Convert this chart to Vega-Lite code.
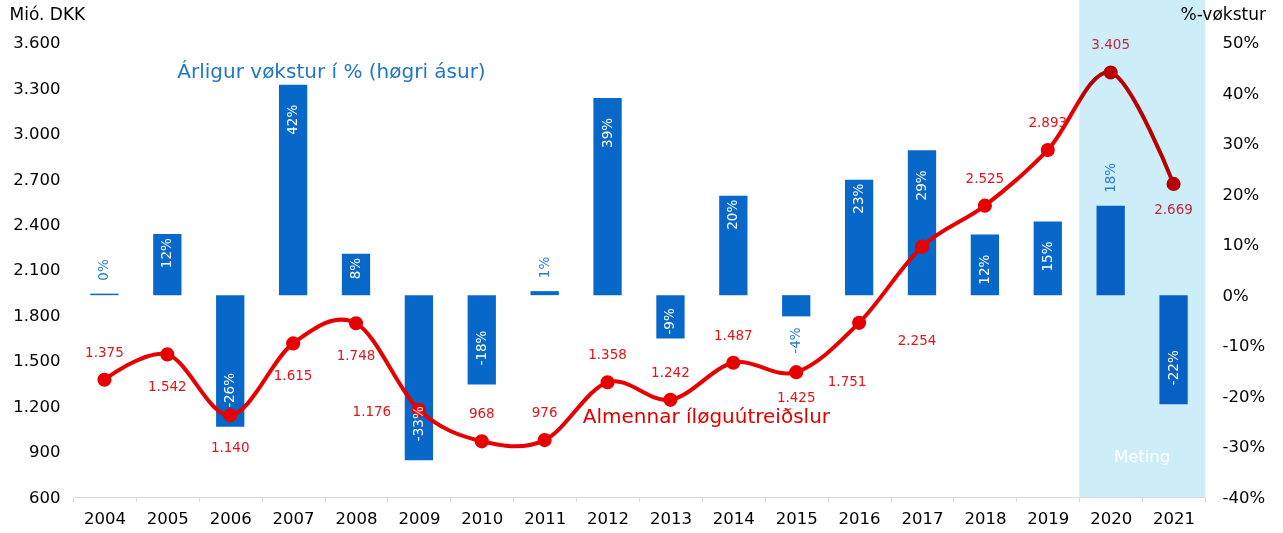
{
  "$schema": "https://vega.github.io/schema/vega-lite/v6.json",
  "width": 1132,
  "height": 497,
  "autosize": {"type": "none"},
  "padding": {"left": 73, "top": 0, "right": 78, "bottom": 36},
  "background": "white",
  "config": {
    "view": {"stroke": null},
    "font": "DejaVu Sans",
    "locale": {"number": {"decimal": ",", "thousands": ".", "grouping": [3], "currency": ["", " kr."], "minus": "-", "percent": "%"}},
    "text": {"font": "DejaVu Sans"}
  },
  "data": {"values": [
    {"year": "2004", "value": 1375, "g": 0.003},
    {"year": "2005", "value": 1542, "g": 0.121},
    {"year": "2006", "value": 1140, "g": -0.261},
    {"year": "2007", "value": 1615, "g": 0.417},
    {"year": "2008", "value": 1748, "g": 0.082},
    {"year": "2009", "value": 1176, "g": -0.327},
    {"year": "2010", "value": 968, "g": -0.177},
    {"year": "2011", "value": 976, "g": 0.008},
    {"year": "2012", "value": 1358, "g": 0.391},
    {"year": "2013", "value": 1242, "g": -0.086},
    {"year": "2014", "value": 1487, "g": 0.197},
    {"year": "2015", "value": 1425, "g": -0.042},
    {"year": "2016", "value": 1751, "g": 0.229},
    {"year": "2017", "value": 2254, "g": 0.287},
    {"year": "2018", "value": 2525, "g": 0.12},
    {"year": "2019", "value": 2893, "g": 0.146},
    {"year": "2020", "value": 3405, "g": 0.177},
    {"year": "2021", "value": 2669, "g": -0.216}
  ]},
  "encoding": {
    "x": {
      "field": "year", "type": "ordinal",
      "scale": {"paddingInner": 0, "paddingOuter": 0},
      "axis": {"title": null, "labelAngle": 0, "tickBand": "extent", "domainColor": "#D9D9D9", "tickColor": "#D9D9D9", "tickSize": 5, "labelFontSize": 16.5, "labelColor": "#000", "labelPadding": 8, "grid": false, "labelFont": "DejaVu Sans"}
    }
  },
  "layer": [
    {
      "mark": {"type": "bar", "color": "#0868C9", "width": {"band": 0.45}},
      "encoding": {
        "y": {"field": "g", "type": "quantitative", "scale": {"domain": [-0.4, 0.585], "nice": false},
          "axis": {"orient": "right", "values": [-0.4, -0.3, -0.2, -0.1, 0, 0.1, 0.2, 0.3, 0.4, 0.5], "format": ".0%", "title": "%-vøkstur", "titleAngle": 0, "titleAlign": "left", "titleBaseline": "middle", "titleX": -25, "titleY": 14, "titleFontSize": 17, "titleFontWeight": "normal", "titleColor": "#000", "titleFont": "DejaVu Sans", "domain": false, "ticks": false, "grid": false, "labelFontSize": 16.5, "labelColor": "#000", "labelPadding": 17, "labelAlign": "left", "labelFont": "DejaVu Sans"}}
      }
    },
    {
      "mark": {"type": "line", "interpolate": "cardinal", "tension": 0, "strokeWidth": 4, "color": "#E60000"},
      "encoding": {
        "y": {"field": "value", "type": "quantitative", "scale": {"domain": [600, 3884], "nice": false, "zero": false},
          "axis": {"orient": "left", "values": [600, 900, 1200, 1500, 1800, 2100, 2400, 2700, 3000, 3300, 3600], "format": ",d", "title": "Mió. DKK", "titleAngle": 0, "titleAlign": "left", "titleBaseline": "middle", "titleX": -64, "titleY": 14, "titleFontSize": 17, "titleFontWeight": "normal", "titleColor": "#000", "titleFont": "DejaVu Sans", "domain": false, "ticks": false, "grid": false, "labelFontSize": 16.5, "labelColor": "#000", "labelPadding": 13, "labelFont": "DejaVu Sans"}}
      }
    },
    {
      "mark": {"type": "point", "filled": true, "size": 200, "opacity": 1, "color": "#E60000"},
      "encoding": {
        "y": {"field": "value", "type": "quantitative", "scale": {"domain": [600, 3884], "nice": false, "zero": false}, "axis": null}
      }
    },
    {
      "transform": [{"filter": {"field": "year", "oneOf": ["2020", "2021"]}}],
      "mark": {"type": "rect", "color": "#CDEEF9", "blend": "multiply"},
      "encoding": {}
    },
    {
      "transform": [{"filter": {"field": "year", "oneOf": ["2007", "2012", "2017", "2018", "2019"]}}],
      "mark": {"type": "text", "angle": 270, "align": "right", "baseline": "middle", "dx": -20, "fontSize": 13.5, "color": "white"},
      "encoding": {
        "y": {"field": "g", "type": "quantitative", "scale": {"domain": [-0.4, 0.585], "nice": false}, "axis": null},
        "text": {"field": "g", "type": "quantitative", "format": ".0%"}
      }
    },
    {
      "transform": [{"filter": {"field": "year", "oneOf": ["2005", "2008", "2014", "2016"]}}],
      "mark": {"type": "text", "angle": 270, "align": "right", "baseline": "middle", "dx": -4, "fontSize": 13.5, "color": "white"},
      "encoding": {
        "y": {"field": "g", "type": "quantitative", "scale": {"domain": [-0.4, 0.585], "nice": false}, "axis": null},
        "text": {"field": "g", "type": "quantitative", "format": ".0%"}
      }
    },
    {
      "transform": [{"filter": {"field": "year", "oneOf": ["2006", "2009", "2010", "2021"]}}],
      "mark": {"type": "text", "angle": 270, "align": "left", "baseline": "middle", "dx": 19, "fontSize": 13.5, "color": "white"},
      "encoding": {
        "y": {"field": "g", "type": "quantitative", "scale": {"domain": [-0.4, 0.585], "nice": false}, "axis": null},
        "text": {"field": "g", "type": "quantitative", "format": ".0%"}
      }
    },
    {
      "transform": [{"filter": {"field": "year", "oneOf": ["2013"]}}],
      "mark": {"type": "text", "angle": 270, "align": "left", "baseline": "middle", "dx": 4, "fontSize": 13.5, "color": "white"},
      "encoding": {
        "y": {"field": "g", "type": "quantitative", "scale": {"domain": [-0.4, 0.585], "nice": false}, "axis": null},
        "text": {"field": "g", "type": "quantitative", "format": ".0%"}
      }
    },
    {
      "transform": [{"filter": {"field": "year", "oneOf": ["2004", "2011", "2020"]}}],
      "mark": {"type": "text", "angle": 270, "align": "left", "baseline": "middle", "dx": 13, "fontSize": 13.5, "color": "#2A7FCB"},
      "encoding": {
        "y": {"field": "g", "type": "quantitative", "scale": {"domain": [-0.4, 0.585], "nice": false}, "axis": null},
        "text": {"field": "g", "type": "quantitative", "format": ".0%"}
      }
    },
    {
      "transform": [{"filter": {"field": "year", "oneOf": ["2015"]}}],
      "mark": {"type": "text", "angle": 270, "align": "right", "baseline": "middle", "dx": -11, "fontSize": 13.5, "color": "#2A7FCB"},
      "encoding": {
        "y": {"field": "g", "type": "quantitative", "scale": {"domain": [-0.4, 0.585], "nice": false}, "axis": null},
        "text": {"field": "g", "type": "quantitative", "format": ".0%"}
      }
    },
    {
      "transform": [{"filter": {"field": "year", "oneOf": ["2004", "2010", "2011", "2012", "2013", "2014", "2018", "2019", "2020"]}}],
      "mark": {"type": "text", "align": "center", "baseline": "middle", "dy": -27, "fontSize": 13.5},
      "encoding": {
        "y": {"field": "value", "type": "quantitative", "scale": {"domain": [600, 3884], "nice": false, "zero": false}, "axis": null},
        "text": {"field": "value", "type": "quantitative", "format": ",d"},
        "color": {"condition": {"test": "toNumber(datum.year) >= 2020", "value": "#C0283C"}, "value": "#E0151B"}
      }
    },
    {
      "transform": [{"filter": {"field": "year", "oneOf": ["2005", "2006", "2007", "2008"]}}],
      "mark": {"type": "text", "align": "center", "baseline": "middle", "dy": 33, "fontSize": 13.5},
      "encoding": {
        "y": {"field": "value", "type": "quantitative", "scale": {"domain": [600, 3884], "nice": false, "zero": false}, "axis": null},
        "text": {"field": "value", "type": "quantitative", "format": ",d"},
        "color": {"value": "#E0151B"}
      }
    },
    {
      "transform": [{"filter": {"field": "year", "oneOf": ["2015", "2021"]}}],
      "mark": {"type": "text", "align": "center", "baseline": "middle", "dy": 26, "fontSize": 13.5},
      "encoding": {
        "y": {"field": "value", "type": "quantitative", "scale": {"domain": [600, 3884], "nice": false, "zero": false}, "axis": null},
        "text": {"field": "value", "type": "quantitative", "format": ",d"},
        "color": {"condition": {"test": "toNumber(datum.year) >= 2020", "value": "#C0283C"}, "value": "#E0151B"}
      }
    },
    {
      "transform": [{"filter": {"field": "year", "oneOf": ["2009"]}}],
      "mark": {"type": "text", "align": "center", "baseline": "middle", "dx": -47, "dy": 2, "fontSize": 13.5},
      "encoding": {
        "y": {"field": "value", "type": "quantitative", "scale": {"domain": [600, 3884], "nice": false, "zero": false}, "axis": null},
        "text": {"field": "value", "type": "quantitative", "format": ",d"},
        "color": {"value": "#E0151B"}
      }
    },
    {
      "transform": [{"filter": {"field": "year", "oneOf": ["2016"]}}],
      "mark": {"type": "text", "align": "center", "baseline": "middle", "dx": -12, "dy": 59, "fontSize": 13.5},
      "encoding": {
        "y": {"field": "value", "type": "quantitative", "scale": {"domain": [600, 3884], "nice": false, "zero": false}, "axis": null},
        "text": {"field": "value", "type": "quantitative", "format": ",d"},
        "color": {"value": "#E0151B"}
      }
    },
    {
      "transform": [{"filter": {"field": "year", "oneOf": ["2017"]}}],
      "mark": {"type": "text", "align": "center", "baseline": "middle", "dx": -5, "dy": 94, "fontSize": 13.5},
      "encoding": {
        "y": {"field": "value", "type": "quantitative", "scale": {"domain": [600, 3884], "nice": false, "zero": false}, "axis": null},
        "text": {"field": "value", "type": "quantitative", "format": ",d"},
        "color": {"value": "#E0151B"}
      }
    },
    {
      "data": {"values": [{"t": "Árligur vøkstur í % (høgri ásur)"}]},
      "mark": {"type": "text", "align": "left", "baseline": "middle", "dx": 10, "fontSize": 20, "color": "#1F76C6"},
      "encoding": {
        "x": {"datum": "2005", "type": "ordinal"},
        "y": {"datum": 3408, "type": "quantitative", "scale": {"domain": [600, 3884], "nice": false, "zero": false}, "axis": null},
        "text": {"field": "t"}
      }
    },
    {
      "data": {"values": [{"t": "Almennar íløguútreiðslur"}]},
      "mark": {"type": "text", "align": "center", "baseline": "middle", "dx": 36, "fontSize": 20, "color": "#E00000"},
      "encoding": {
        "x": {"datum": "2013", "type": "ordinal"},
        "y": {"datum": 1129, "type": "quantitative", "scale": {"domain": [600, 3884], "nice": false, "zero": false}, "axis": null},
        "text": {"field": "t"}
      }
    },
    {
      "data": {"values": [{"t": "Meting"}]},
      "mark": {"type": "text", "align": "center", "baseline": "middle", "fontSize": 16.5, "color": "white"},
      "encoding": {
        "x": {"datum": "2021", "type": "ordinal", "bandPosition": 0},
        "y": {"datum": 864, "type": "quantitative", "scale": {"domain": [600, 3884], "nice": false, "zero": false}, "axis": null},
        "text": {"field": "t"}
      }
    }
  ],
  "resolve": {"scale": {"y": "independent"}}
}
